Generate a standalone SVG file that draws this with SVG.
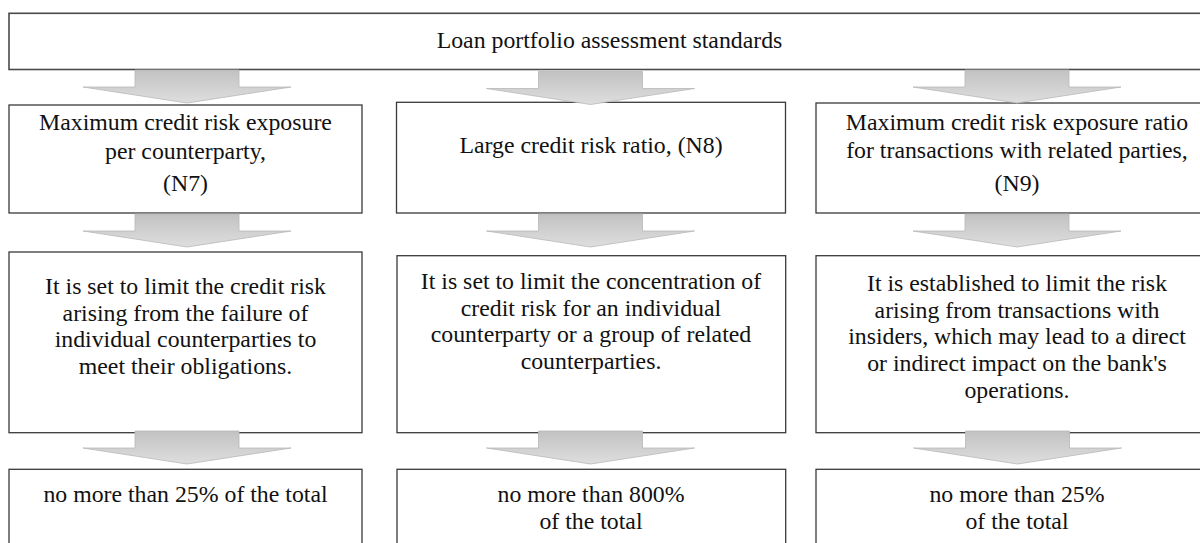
<svg xmlns="http://www.w3.org/2000/svg" width="1200" height="543" viewBox="0 0 1200 543">
<style>
.box{fill:#fff;stroke:#3a3a3a;stroke-width:1.3}
.t{font-family:"Liberation Serif","Times New Roman",serif;font-size:23.8px;fill:#111;text-anchor:middle}
.arr{fill:url(#g);stroke:#b8b8b8;stroke-width:0.8}
</style>
<defs>
<linearGradient id="g" x1="0" y1="0" x2="0" y2="1">
<stop offset="0" stop-color="#c2c2c2"/>
<stop offset="1" stop-color="#dedede"/>
</linearGradient>
<path id="a" d="M-52,0 H52 V17 H104 L0,33 L-104,17 H-52 Z"/>
</defs>
<rect width="1200" height="543" fill="#fff"/>

<g id="top">
<rect class="box" x="9" y="13.3" width="1201" height="56.2" style="stroke:#4a4a4a;stroke-width:1.6"/>
<text class="t" x="609.5" y="48">Loan portfolio assessment standards</text>
</g>

<g id="n7">
<rect class="box" x="9" y="105" width="353" height="108"/>
<text class="t" x="185.5" y="130">Maximum credit risk exposure</text>
<text class="t" x="185.5" y="159">per counterparty,</text>
<text class="t" x="185.5" y="191">(N7)</text>
</g>
<g id="n8">
<rect class="box" x="396.5" y="102.3" width="389" height="110.7"/>
<text class="t" x="591" y="153">Large credit risk ratio, (N8)</text>
</g>
<g id="n9">
<rect class="box" x="816" y="103" width="402" height="110"/>
<text class="t" x="1017" y="130">Maximum credit risk exposure ratio</text>
<text class="t" x="1017" y="158">for transactions with related parties,</text>
<text class="t" x="1017" y="191">(N9)</text>
</g>

<g id="d7">
<rect class="box" x="9" y="252" width="353" height="180.7"/>
<text class="t" x="185.5" y="294">It is set to limit the credit risk</text>
<text class="t" x="185.5" y="320.7">arising from the failure of</text>
<text class="t" x="185.5" y="347.4">individual counterparties to</text>
<text class="t" x="185.5" y="374">meet their obligations.</text>
</g>
<g id="d8">
<rect class="box" x="397" y="255.7" width="388.7" height="177"/>
<text class="t" x="591" y="289">It is set to limit the concentration of</text>
<text class="t" x="591" y="315.7">credit risk for an individual</text>
<text class="t" x="591" y="342.4">counterparty or a group of related</text>
<text class="t" x="591" y="369.1">counterparties.</text>
</g>
<g id="d9">
<rect class="box" x="816" y="255.7" width="402" height="177"/>
<text class="t" x="1017" y="291">It is established to limit the risk</text>
<text class="t" x="1017" y="317.7">arising from transactions with</text>
<text class="t" x="1017" y="344.4">insiders, which may lead to a direct</text>
<text class="t" x="1017" y="371.1">or indirect impact on the bank's</text>
<text class="t" x="1017" y="397.8">operations.</text>
</g>

<g id="v7">
<rect class="box" x="9" y="469.3" width="353" height="100"/>
<text class="t" x="185.5" y="501.7">no more than 25% of the total</text>
</g>
<g id="v8">
<rect class="box" x="397" y="469.3" width="388.7" height="100"/>
<text class="t" x="591" y="501.7">no more than 800%</text>
<text class="t" x="591" y="529">of the total</text>
</g>
<g id="v9">
<rect class="box" x="816" y="469.3" width="402" height="100"/>
<text class="t" x="1017" y="501.5">no more than 25%</text>
<text class="t" x="1017" y="528.5">of the total</text>
</g>

<g id="connectors">
<use href="#a" class="arr" x="187" y="70"/>
<use href="#a" class="arr" x="590.5" y="71.5"/>
<use href="#a" class="arr" x="1017" y="70"/>
<use href="#a" class="arr" x="187" y="214"/>
<use href="#a" class="arr" x="590.5" y="214"/>
<use href="#a" class="arr" x="1017" y="214"/>
<use href="#a" class="arr" x="187" y="431"/>
<use href="#a" class="arr" x="590.5" y="431"/>
<use href="#a" class="arr" x="1017.5" y="431"/>
</g>
</svg>
